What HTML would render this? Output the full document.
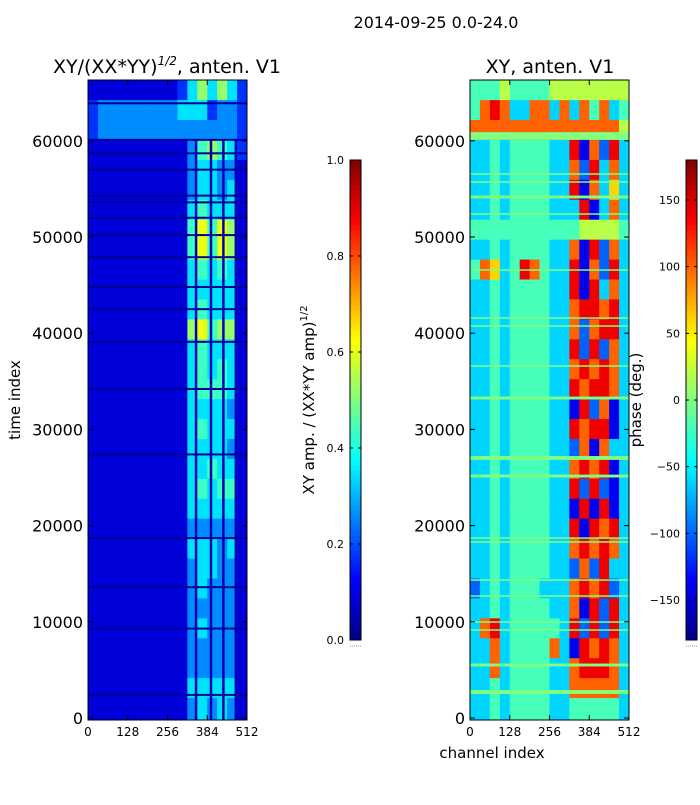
<!DOCTYPE html>
<html><head><meta charset="utf-8"><style>
body{margin:0;background:#fff;width:700px;height:800px;overflow:hidden;font-family:"Liberation Sans","DejaVu Sans",sans-serif}
svg text{font-family:"DejaVu Sans","Liberation Sans",sans-serif}
</style></head><body>
<svg id="fig" width="700" height="800" viewBox="0 0 700 800" xmlns="http://www.w3.org/2000/svg">
<text x="436" y="28" font-size="16" text-anchor="middle">2014-09-25 0.0-24.0</text>
<text x="167" y="73" font-size="19" text-anchor="middle">XY/(XX*YY)<tspan font-size="12" dy="-8" font-style="italic">1/2</tspan><tspan dy="8">, anten. V1</tspan></text>
<text x="550" y="73" font-size="19" text-anchor="middle">XY, anten. V1</text>
<text transform="translate(20,400) rotate(-90)" font-size="15" text-anchor="middle">time index</text>
<text x="492" y="758" font-size="15" text-anchor="middle">channel index</text>
<text transform="translate(314,400) rotate(-90)" font-size="15" text-anchor="middle">XY amp. / (XX*YY amp)<tspan font-size="10" dy="-7">1/2</tspan></text>
<text transform="translate(641,400) rotate(-90)" font-size="15" text-anchor="middle">phase (deg.)</text>
<g id="g"></g>
</svg>
<script>
// ---- data ----
const ampRows=["1111111112464642","2333333334442332","2333333333333332","1111111111356542","1111111111344331","1111111111344341","1111111111454441","1111111111575761","1111111111575761","1111111111454541","1111111111444441","1111111111454441","1111111111675661","1111111111454441","1111111111454541","1111111111455541","1111111111444431","1111111111454441","1111111111444431","1111111111445441","1111111111454551","1111111111444441","1111111111333331","1111111111444341","1111111111344331","1111111111343331","1111111111333331","1111111111343331","1111111111333331","1111111111333331","1111111111444441","1111111111343431"];
const phaseRows=["4445444455555555","4787337737374734","7777777777777775","3343444433817283","3343444433728373","3343444433817363","3343444433381373","4444444444455554","3343444433718273","4763487433817283","3343444433818373","3343444433788783","3343444433727883","3343444433828273","3343444433787873","3343444433878873","3343444433182713","3343444433878813","3343444433271733","3343444433787813","3343444433828213","3343444433181813","3343444433818783","3343444433787873","3343444433272833","2343444333787823","3343444433718283","3783444443828283","3373444473187873","3373444433788873","3343444433777773","3343444433444443"];
const phaseFlagTimes=[60500,56550,55720,54160,52390,46570,41580,40750,36590,33260,27030,25150,18710,18300,14340,12680,9980,9150,5510,2700];
const phaseFlagWidths=[800,150,150,300,150,150,150,150,150,300,400,300,150,150,150,150,150,150,300,400];
const ampFlagTimes=[63900,60100,58700,57000,54300,53600,52000,50200,47900,44800,42500,39100,34200,27400,18700,13600,9300,2400];
const channelFlags=[[344,352],[392,400],[432,440],[472,480]];
const yTicks=[0,10000,20000,30000,40000,50000,60000];
const xTicks=[0,128,256,384,512];
const ampCbTicks=[0,0.2,0.4,0.6,0.8,1.0];
const phaseCbTicks=[-150,-100,-50,0,50,100,150];
// ---- scales ----
const T0=0,T1=66300,PT=80,PB=720,K=0.00962;
const ty=t=>718-t*K;
const NS="http://www.w3.org/2000/svg";
const g=document.getElementById('g');
function jet(x){x=Math.max(0,Math.min(1,x));const c=v=>Math.round(255*Math.max(0,Math.min(1,v)));
return `rgb(${c(1.5-Math.abs(4*x-3))},${c(1.5-Math.abs(4*x-2))},${c(1.5-Math.abs(4*x-1))})`;}
function mk(tag,a,parent){const e=document.createElementNS(NS,tag);for(const k in a)e.setAttribute(k,a[k]);(parent||g).appendChild(e);return e;}
function panel(x0,rows,norm,name){
  const w=159,cx=c=>x0+c/512*w;
  const grp=mk('g',{});
  
  
  const nr=rows.length,rowT=(T1-T0)/nr;
  rows.forEach((r,i)=>{const vals=r.split('').map(Number);
    vals.forEach((v,j)=>{const tTop=T1-i*rowT,tBot=T1-(i+1)*rowT;
      const yTop=i==0?PT:ty(tTop),yBot=i==nr-1?PB:ty(tBot);
      const e=mk('rect',{x:cx(j*32),y:yTop,width:cx((j+1)*32)-cx(j*32)+0.5,height:yBot-yTop+0.5,fill:jet(norm(v))},grp);
      
      });});
  return {grp,cx};
}
function axes(x0){
  const w=159;
  const f=mk('rect',{x:x0,y:PT,width:w,height:PB-PT,fill:'none',stroke:'#000','stroke-width':1});
  
  
  yTicks.forEach(t=>{const y=ty(t);
    mk('line',{x1:x0,x2:x0+5,y1:y,y2:y,stroke:'#000'});mk('line',{x1:x0+w-5,x2:x0+w,y1:y,y2:y,stroke:'#000'});
    const l=mk('text',{x:x0-5,y:y+6,'font-size':16,'text-anchor':'end'});l.textContent=t;
    
    });
  xTicks.forEach(c=>{const x=x0+c/512*w;
    mk('line',{x1:x,x2:x,y1:PB,y2:PB-5,stroke:'#000'});mk('line',{x1:x,x2:x,y1:PT,y2:PT+5,stroke:'#000'});
    const l=mk('text',{x:x,y:736,'font-size':12,'text-anchor':'middle'});l.textContent=c;
    
    });
}
// amplitude panel
const A=panel(88,ampRows,v=>v/11.5,'amplitude-heatmap');
channelFlags.forEach(([a,b])=>{const e=mk('rect',{x:A.cx(a),y:PT+60,width:A.cx(b)-A.cx(a),height:PB-PT-60,fill:jet(0.05)},A.grp);
  
  });
ampFlagTimes.forEach(t=>{const e=mk('rect',{x:88,y:ty(t)-1,width:159,height:2,fill:jet(0.02)},A.grp);
  
  });
axes(88);
// phase panel
const P=panel(470,phaseRows,v=>v/9,'phase-heatmap');
phaseFlagTimes.forEach((t,i)=>{const h=phaseFlagWidths[i]*K;const e=mk('rect',{x:470,y:ty(t)-h/2,width:159,height:Math.max(1.5,h),fill:jet(0.5)},P.grp);
  
  });
axes(470);
// colorbars
function cbar(x,ticks,lo,hi,name,fmt){
  const grp=mk('g',{});
  
  
  for(let i=0;i<96;i++){mk('rect',{x:x,y:640-(i+1)*5,width:11,height:5.5,fill:jet((i+0.5)/96)},grp);}
  mk('rect',{x:x,y:160,width:11,height:480,fill:'none',stroke:'#000'},grp);
  mk('line',{x1:x,x2:x+11,y1:646,y2:646,stroke:'#999','stroke-dasharray':'1,1'},grp);
  ticks.forEach(v=>{const y=640-(v-lo)/(hi-lo)*480;
    mk('line',{x1:x,x2:x+3,y1:y,y2:y,stroke:'#000'},grp);mk('line',{x1:x+8,x2:x+11,y1:y,y2:y,stroke:'#000'},grp);
    const l=mk('text',{x:x-6,y:y+4,'font-size':11,'text-anchor':'end'},grp);l.textContent=fmt(v);
    
    });
}
cbar(350,ampCbTicks,0,1,'amp-colorbar',v=>v.toFixed(1));
cbar(686,phaseCbTicks,-180,180,'phase-colorbar',v=>v<0?'\u2212'+(-v):String(v));
</script>
</body></html>
